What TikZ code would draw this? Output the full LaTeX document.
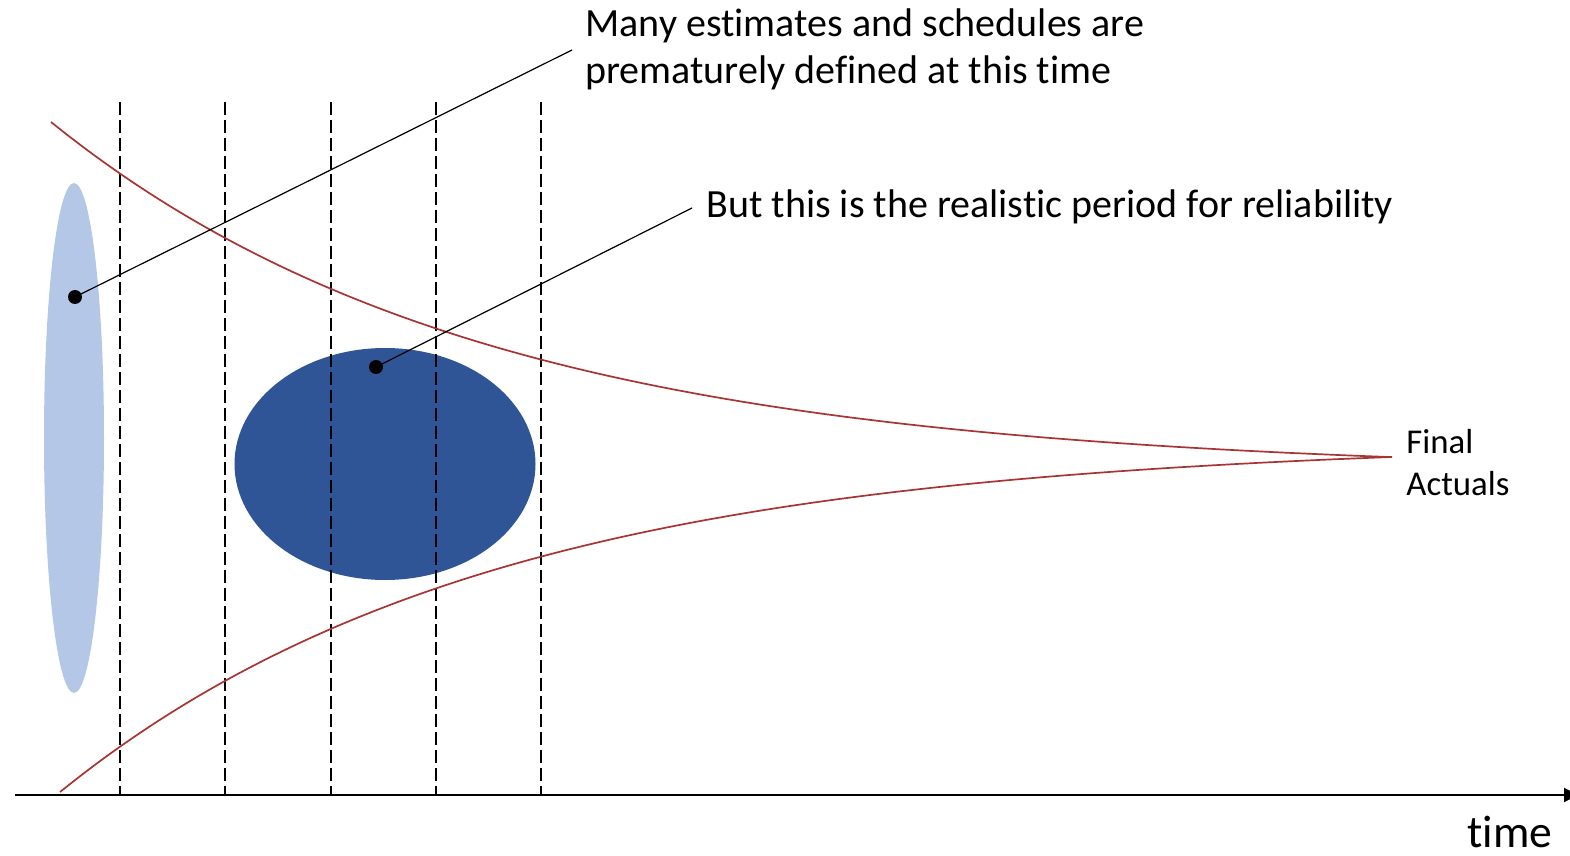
\documentclass[tikz,border=0pt]{standalone}
\usepackage{fontspec}
\setmainfont{Carlito}[Ligatures=NoCommon]
\usetikzlibrary{shapes.geometric,arrows.meta}
\definecolor{curvered}{HTML}{A83434}
\definecolor{lightblue}{HTML}{B4C7E7}
\definecolor{darkblue}{HTML}{2F5597}
\tikzset{
  boundcurve/.style={draw=curvered, line width=0.85pt},
  guide/.style={draw=black, line width=0.7pt, dash pattern=on 6.5pt off 2.5pt},
  callout/.style={draw=black, line width=0.6pt},
  dotmark/.style={circle, fill=black, inner sep=0pt, minimum size=7pt},
  labeltext/.style={inner sep=0pt, font=\fontsize{20}{24}\selectfont, align=left},
}
\begin{document}
\begin{tikzpicture}[x=0.5pt,y=-0.5pt]
\useasboundingbox (0,0) rectangle (1570,856);
% ellipses
\node[ellipse, fill=lightblue, inner sep=0pt, minimum width=30pt, minimum height=255pt] (early) at (74,438) {};
\node[ellipse, fill=darkblue, inner sep=0pt, minimum width=150.5pt, minimum height=116pt] (real) at (385,464) {};
% dashed guides
\foreach \gx [count=\i] in {120,225,331,436,541} {
  \coordinate (gt\i) at (\gx,102);
  \coordinate (gb\i) at (\gx,795);
  \draw[guide] (gt\i) -- (gb\i);
}
% axis
\coordinate (axL) at (15,795);
\coordinate (axR) at (1578,795);
\draw[line width=1pt, -{Triangle[length=7pt,width=7pt]}] (axL) -- (axR);
% converging curves
\draw[boundcurve] plot[domain=51:1392, samples=150] (\x, {457 - 335*(exp(-0.0023*(\x-51)) - 0.0458)/0.9542});
\draw[boundcurve] plot[domain=60:1392, samples=150] (\x, {457 + 335*(exp(-0.0023*(\x-60)) - 0.0465)/0.9535});
% callouts
\node[dotmark] (d1) at (75,297) {};
\node[dotmark] (d2) at (376,367) {};
\coordinate (c1) at (572,50);
\coordinate (c2) at (692,208);
\draw[callout] (d1.center) -- (c1);
\draw[callout] (d2.center) -- (c2);
\node[labeltext, anchor=base west] (t1) at (585,84) {Many estimates and schedules are\\prematurely defined at this time};
\node[labeltext, anchor=base west] (t2) at (706,218) {But this is the realistic period for reliability};
\node[inner sep=0pt, anchor=base west, align=left, font=\fontsize{17.4}{21}\selectfont] (fa) at (1406,495) {Final\\Actuals};
\node[inner sep=0pt, anchor=base west, font=\fontsize{22.8}{26}\selectfont] (time) at (1467,847) {time};
\end{tikzpicture}
\end{document}
